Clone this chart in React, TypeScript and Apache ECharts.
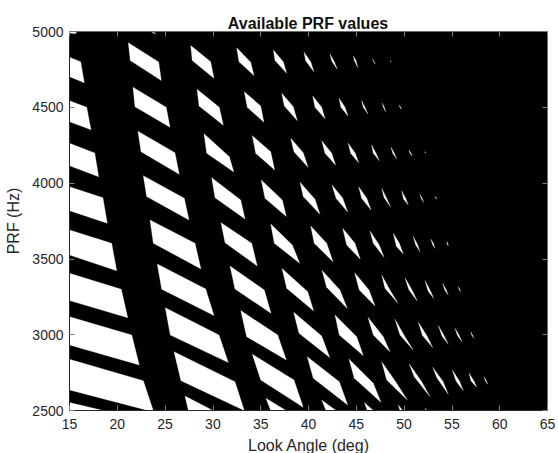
import React, { useEffect, useRef } from "react";
import * as echarts from "echarts";

type P = number[];
const lookTicksMin = 15;
const lookTicksMax = 65;
const prfMin = 2500;
const prfMax = 5000;
const titleText = "Available PRF values";
const xName = "Look Angle (deg)";
const yName = "PRF (Hz)";

// Each window: corner list as [look angle deg, PRF Hz, ...]
const band0: P[] = [
  [15,5000, 15.8,5000, 15.6,4985, 15,4990],
  [15,4830, 16.17,4801, 16.55,4662, 15,4702],
  [15,4544, 16.8,4500, 17.25,4352, 15,4405],
  [15,4263, 17.64,4199, 18.05,4042, 15,4115],
  [15,3976, 18.5,3904, 18.95,3735, 15,3818],
  [15,3691, 19.41,3603, 19.94,3422, 15,3526],
  [15,3405, 20.42,3300, 21.09,3112, 15,3225],
  [15,3119, 21.51,2998, 22.3,2800, 15,2932],
  [15,2838, 22.72,2697, 23.76,2500, 23.21,2500, 18.19,2583, 15,2636],
  [15,2552, 18.54,2500, 15,2500],
];
const band1: P[] = [
  [23.6,4995, 24,4990, 23.9,4985],
  [21.15,4926, 24.33,4799, 24.6,4676, 21.36,4808],
  [21.64,4632, 25.12,4500, 25.51,4368, 21.85,4504],
  [22.16,4342, 26.03,4201, 26.48,4058, 22.48,4207],
  [22.72,4049, 27.01,3900, 27.5,3757, 23.07,3911],
  [23.42,3757, 28.13,3603, 28.75,3434, 23.77,3603],
  [24.18,3467, 29.25,3302, 30.11,3126, 24.64,3300],
  [25.02,3178, 30.64,2998, 31.61,2816, 25.54,2998],
  [25.93,2888, 32.31,2690, 33.28,2500, 26.66,2697],
  [27.08,2596, 30.01,2500, 27.43,2500],
];
const band2: P[] = [
  [27.68,4907, 29.77,4801, 30.11,4692, 27.84,4808],
  [28.34,4619, 30.67,4500, 31.09,4382, 28.55,4509],
  [29.07,4326, 31.72,4174, 32.19,4073, 29.35,4197],
  [29.87,4036, 32.91,3889, 33.36,3763, 30.22,3904],
  [30.85,3739, 34.06,3603, 34.64,3453, 31.27,3607],
  [31.79,3453, 35.38,3295, 36.08,3141, 32.31,3302],
  [32.91,3159, 36.78,2998, 37.68,2833, 33.53,2987],
  [34.12,2871, 38.48,2702, 39.45,2521, 35,2702],
  [35.55,2581, 37.65,2500, 36.05,2500],
];
const band3: P[] = [
  [32.49,4893, 33.95,4797, 34.3,4709, 32.73,4801],
  [33.28,4603, 35,4509, 35.34,4401, 33.6,4500],
  [34.12,4313, 36.05,4207, 36.46,4087, 34.48,4197],
  [35.06,4021, 37.26,3889, 37.68,3779, 35.45,3900],
  [36.05,3730, 38.31,3592, 39.08,3471, 36.42,3603],
  [37.23,3436, 39.92,3284, 40.54,3157, 37.72,3306],
  [38.45,3148, 41.38,2992, 42.22,2849, 39,3010],
  [39.87,2855, 43.22,2690, 44.1,2537, 40.5,2713],
  [41.38,2570, 42.88,2500, 41.83,2500],
];
const band4: P[] = [
  [36.32,4878, 37.36,4801, 37.72,4724, 36.5,4808],
  [37.2,4593, 38.41,4504, 38.83,4412, 37.47,4509],
  [38.14,4296, 39.45,4201, 39.95,4104, 38.48,4207],
  [39.11,4006, 40.68,3893, 41.2,3794, 39.45,3911],
  [40.23,3717, 41.9,3603, 42.56,3482, 40.6,3603],
  [41.41,3425, 43.29,3295, 44.06,3172, 41.9,3313],
  [42.77,3130, 45.04,2987, 45.73,2862, 43.22,2998],
  [44.23,2840, 46.78,2680, 47.58,2554, 44.79,2713],
  [45.84,2552, 46.78,2500, 46.15,2500],
];
const band5: P[] = [
  [39.53,4863, 40.23,4801, 40.57,4735, 39.71,4806],
  [40.44,4575, 41.38,4500, 41.73,4425, 40.68,4500],
  [41.38,4280, 42.43,4197, 42.84,4118, 41.73,4197],
  [42.46,3988, 43.58,3900, 44.1,3810, 42.88,3900],
  [43.58,3702, 44.86,3603, 45.42,3498, 43.99,3592],
  [44.83,3409, 46.33,3295, 46.96,3190, 45.31,3295],
  [46.22,3115, 47.82,2987, 48.52,2888, 46.78,2998],
  [47.66,2822, 49.22,2680, 50.33,2570, 48.18,2702],
  [49.39,2537, 49.85,2500, 49.57,2500],
];
const band6: P[] = [
  [42.25,4852, 42.7,4801, 43.01,4751, 42.43,4806],
  [43.19,4560, 43.82,4500, 44.13,4443, 43.4,4500],
  [44.16,4263, 44.89,4197, 45.25,4135, 44.41,4197],
  [45.25,3976, 46.09,3900, 46.54,3823, 45.56,3900],
  [46.43,3684, 47.4,3592, 47.9,3511, 46.78,3603],
  [47.66,3394, 48.52,3295, 49.36,3207, 48,3306],
  [49.05,3102, 50.09,2987, 50.96,2899, 49.57,2998],
  [50.54,2807, 51.84,2690, 52.71,2591, 51.06,2723],
  [52.19,2515, 52.4,2500, 52.29,2500],
];
const band7: P[] = [
  [44.69,4839, 44.97,4808, 45.15,4764, 44.79,4808],
  [45.56,4544, 45.91,4500, 46.22,4456, 45.73,4500],
  [46.61,4252, 47.06,4197, 47.41,4148, 46.78,4197],
  [47.66,3966, 48.16,3902, 48.6,3841, 47.9,3905],
  [48.87,3669, 49.5,3603, 49.92,3533, 49.2,3581],
  [50.09,3376, 50.83,3295, 51.38,3223, 50.51,3295],
  [51.49,3082, 52.4,2992, 52.99,2915, 51.92,2995],
  [52.99,2785, 54.07,2692, 54.62,2607, 53.44,2715],
];
const band8: P[] = [
  [46.71,4819, 46.85,4802, 46.99,4784, 46.83,4799],
  [47.72,4527, 47.92,4502, 48.08,4471, 47.84,4499],
  [48.63,4236, 48.96,4199, 49.22,4161, 48.82,4196],
  [49.75,3948, 50.15,3902, 50.44,3856, 49.94,3895],
  [50.96,3647, 51.38,3599, 51.66,3548, 51.21,3592],
  [52.19,3357, 52.71,3295, 53.1,3240, 52.5,3289],
  [53.58,3060, 54.17,2995, 54.62,2937, 53.96,2992],
  [55.04,2767, 55.79,2695, 56.19,2631, 55.43,2695],
];
const band9: P[] = [
  [48.52,4809, 48.59,4806, 48.63,4799, 48.57,4802],
  [49.5,4515, 49.62,4502, 49.71,4487, 49.57,4499],
  [50.51,4219, 50.7,4199, 50.86,4179, 50.62,4196],
  [51.66,3926, 51.87,3902, 52.05,3874, 51.79,3899],
  [52.81,3630, 53.07,3602, 53.23,3570, 52.97,3595],
  [54.04,3339, 54.38,3298, 54.62,3262, 54.25,3295],
  [55.32,3043, 55.74,2998, 56.05,2954, 55.58,2995],
  [56.79,2746, 57.31,2695, 57.59,2653, 57,2695],
];
const band10: P[] = [
  [52.15,4207, 52.22,4205, 52.25,4200, 52.19,4201],
  [53.26,3911, 53.36,3904, 53.41,3893, 53.32,3900],
  [54.46,3614, 54.57,3602, 54.62,3587, 54.51,3599],
  [55.67,3317, 55.82,3302, 55.92,3284, 55.76,3298],
  [56.97,3020, 57.15,2998, 57.31,2977, 57.08,2997],
  [58.36,2723, 58.57,2701, 58.74,2673, 58.51,2695],
];
const windows: P[] = [
  ...band0, ...band1, ...band2, ...band3, ...band4, ...band5,
  ...band6, ...band7, ...band8, ...band9, ...band10,
];

const FONT = '"Liberation Sans", Arial, sans-serif';
const TEXT = "#262626";
const TICK = "#808080";

export default function App() {
  const ref = useRef<HTMLDivElement>(null);
  useEffect(() => {
    document.body.style.margin = "0";
    const chart = echarts.init(ref.current!, undefined, { renderer: "svg" });
    const plain = (v: number) => String(v);
    const secondary = {
      z: 5,
      axisLabel: { show: false },
      axisLine: { show: true, lineStyle: { color: "#6a6a6a", width: 1 } },
      axisTick: { show: true, inside: true, length: 5, lineStyle: { color: TICK } },
      splitLine: { show: false },
    };
    const primary = {
      z: 5,
      axisLine: { show: true, onZero: false, lineStyle: { color: TEXT, width: 1 } },
      axisTick: { show: true, inside: true, length: 5, lineStyle: { color: TICK } },
      splitLine: { show: false },
      nameTextStyle: { color: TEXT, fontFamily: FONT, fontSize: 16 },
    };
    chart.setOption({
      animation: false,
      backgroundColor: "#fff",
      title: {
        text: titleText,
        left: 308,
        top: 15,
        padding: 0,
        textAlign: "center",
        textStyle: { color: "#111", fontFamily: FONT, fontSize: 16, fontWeight: "bold" },
      },
      grid: {
        left: 69.5,
        top: 31.5,
        width: 478,
        height: 379,
        show: true,
        backgroundColor: "#000",
        borderWidth: 0,
        outerBoundsMode: "none",
        containLabel: false,
      },
      xAxis: [
        {
          ...primary,
          type: "value",
          min: lookTicksMin,
          max: lookTicksMax,
          interval: 5,
          position: "bottom",
          name: xName,
          nameLocation: "middle",
          nameGap: 27,
          axisLabel: { color: TEXT, fontFamily: FONT, fontSize: 14, margin: 6, formatter: plain, showMinLabel: true, showMaxLabel: true, hideOverlap: false },
        },
        {
          ...secondary,
          type: "value",
          min: lookTicksMin,
          max: lookTicksMax,
          interval: 5,
          position: "top",
        },
      ],
      yAxis: [
        {
          ...primary,
          type: "value",
          min: prfMin,
          max: prfMax,
          interval: 500,
          position: "left",
          name: yName,
          nameLocation: "middle",
          nameGap: 41,
          axisLabel: { color: TEXT, fontFamily: FONT, fontSize: 14, margin: 6, formatter: plain, showMinLabel: true, showMaxLabel: true, hideOverlap: false },
        },
        {
          ...secondary,
          type: "value",
          min: prfMin,
          max: prfMax,
          interval: 500,
          position: "right",
        },
      ],
      series: [
        {
          type: "custom",
          coordinateSystem: "cartesian2d",
          clip: true,
          z: 1,
          data: windows.map((w) => [w[0], w[1]]),
          renderItem: (params: any, api: any) => {
            const w = windows[params.dataIndex];
            const points: number[][] = [];
            for (let i = 0; i < w.length; i += 2) points.push(api.coord([w[i], w[i + 1]]));
            return {
              type: "polygon",
              shape: { points },
              style: { fill: "#fff", stroke: "rgba(255,255,255,0.35)", lineWidth: 0.8 },
            };
          },
        },
      ],
    });
    return () => chart.dispose();
  }, []);
  return <div ref={ref} style={{ width: 558, height: 453 }} />;
}
